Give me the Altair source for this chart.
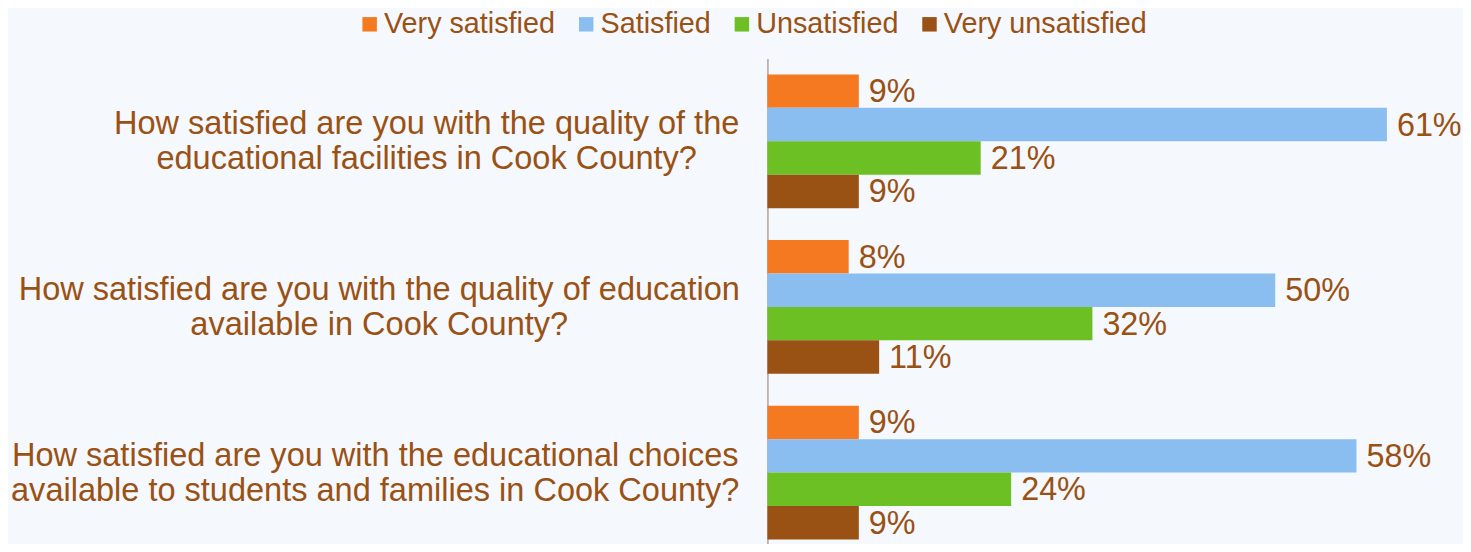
import altair as alt
import pandas as pd

questions = [
    "How satisfied are you with the quality of the|educational facilities in Cook County?",
    "How satisfied are you with the quality of education|available in Cook County?",
    "How satisfied are you with the educational choices|available to students and families in Cook County?",
]
categories = ["Very satisfied", "Satisfied", "Unsatisfied", "Very unsatisfied"]
colors = ["#F47920", "#8BBEF0", "#6CC024", "#9A5114"]
values = [
    [9, 61, 21, 9],
    [8, 50, 32, 11],
    [9, 58, 24, 9],
]

rows = []
for q, vals in zip(questions, values):
    for c, v in zip(categories, vals):
        rows.append({"question": q, "category": c, "value": v})
df = pd.DataFrame(rows)

text_color = "#9A5114"
bg = "#F5F8FC"

# half width of the widest line of each question (centred multi-line labels)
half_widths = [312, 359.5, 363.5]
pad_conditions = [
    {"test": f"datum.value == {q!r}", "value": 30 + hw}
    for q, hw in zip(questions, half_widths)
]

y_enc = alt.Y(
    "question:N",
    sort=questions,
    scale=alt.Scale(paddingInner=0.1928, paddingOuter=0.0602, align=0.8),
    axis=alt.Axis(
        title=None,
        ticks=False,
        grid=False,
        domainColor="#B9A097",
        domainWidth=1.5,
        labelExpr="split(datum.label, '|')",
        labelAlign="center",
        labelBaseline="middle",
        labelFont="Liberation Sans",
        labelFontSize=32.6,
        labelLineHeight=35,
        labelOffset=-17,
        labelColor=text_color,
        labelLimit=0,
        labelPadding={"condition": pad_conditions, "value": 350},
    ),
)
yoff_enc = alt.YOffset(
    "category:N", sort=categories, scale=alt.Scale(paddingInner=0, paddingOuter=0)
)
x_enc = alt.X(
    "value:Q", axis=None, scale=alt.Scale(domain=[0, 68], nice=False, zero=True)
)

base = alt.Chart(df)

bars = base.mark_bar(cornerRadius=0).encode(
    y=y_enc,
    yOffset=yoff_enc,
    x=x_enc,
    color=alt.Color(
        "category:N",
        sort=categories,
        scale=alt.Scale(domain=categories, range=colors),
        legend=alt.Legend(
            title=None,
            orient="none",
            direction="horizontal",
            legendX=-413,
            legendY=-49,
            symbolType="square",
            symbolSize=210,
            symbolStrokeWidth=0,
            symbolOpacity=1,
            labelFont="Liberation Sans",
            labelFontSize=28.8,
            labelColor=text_color,
            labelOffset=0,
            columnPadding=16,
            labelLimit=0,
            padding=0,
        ),
    ),
)

labels = base.transform_calculate(label="datum.value + '%'").mark_text(
    align="left",
    baseline="middle",
    dx=10,
    dy=1,
    font="Liberation Sans",
    fontSize=32.4,
    color=text_color,
).encode(
    y=alt.Y("question:N", sort=questions),
    yOffset=alt.YOffset("category:N", sort=categories),
    x=alt.X("value:Q"),
    text="label:N",
)

chart = (
    alt.layer(bars, labels)
    .properties(
        width=692,
        height=486,
        padding={"left": 761, "top": 50, "right": 5, "bottom": 0},
        autosize=alt.AutoSizeParams(type="none"),
        background=bg,
    )
    .configure_view(stroke=None)
)

chart.save("out.html", embed_options={"renderer": "svg", "actions": False})
